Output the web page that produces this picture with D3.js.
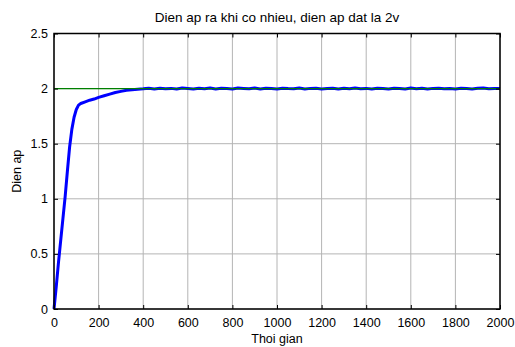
<!DOCTYPE html>
<html>
<head>
<meta charset="utf-8">
<script src="https://cdn.jsdelivr.net/npm/d3@7"></script>
<style>
  body { margin: 0; background: #fff; }
  text { font-family: "Liberation Sans", Arial, sans-serif; }
</style>
</head>
<body>
<div id="chart"></div>
<script>
// output voltage readings (time, volts)
let times = [0, 10, 20, 30, 40, 50, 60, 70, 80, 90, 100, 110, 120, 140, 160, 180,
  200, 225, 250, 275, 300, 325, 350, 375, 400,
  425, 450, 475, 500, 525, 550, 575, 600, 625, 650, 675, 700, 725, 750, 775, 800,
  825, 850, 875, 900, 925, 950, 975, 1000, 1025, 1050, 1075, 1100, 1125, 1150, 1175, 1200,
  1225, 1250, 1275, 1300, 1325, 1350, 1375, 1400, 1425, 1450, 1475, 1500, 1525, 1550, 1575, 1600,
  1625, 1650, 1675, 1700, 1725, 1750, 1775, 1800, 1825, 1850, 1875, 1900, 1925, 1950, 1975, 2000]
let volts = [0, 0.2, 0.42, 0.62, 0.82, 1.02, 1.25, 1.47, 1.63, 1.74, 1.81, 1.85, 1.865, 1.88, 1.895, 1.905,
  1.92, 1.935, 1.95, 1.965, 1.975, 1.985, 1.99, 1.995, 1.998,
  2.003, 1.997, 2.004, 1.998, 2.002, 1.996, 2.005, 2.001, 1.997, 2.004,
  1.999, 2.006, 1.997, 2.003, 2.000, 1.996, 2.005, 2.002, 1.998, 2.005,
  1.997, 2.003, 2.001, 1.996, 2.004, 2.000, 1.998, 2.006, 1.997, 2.002,
  2.004, 1.997, 2.001, 2.004, 1.996, 2.003, 1.999, 2.005, 1.998, 2.002,
  1.997, 2.004, 2.000, 1.997, 2.004, 2.001, 1.996, 2.005, 1.999, 2.003,
  1.997, 2.002, 2.004, 1.998, 2.001, 1.997, 2.004, 2.000, 1.997, 2.003,
  2.005, 1.998, 2.002, 2.000]

// setpoint
let setTimes = [0, 2000]
let setVolts = [2, 2]

let xTicks = [0, 200, 400, 600, 800, 1000, 1200, 1400, 1600, 1800, 2000]
let yTicks = [0, 0.5, 1, 1.5, 2, 2.5]

let margin = { top: 33.5, left: 54, right: 15, bottom: 38 }
let width = 515 - margin.left - margin.right
let height = 347 - margin.top - margin.bottom

let svg = d3
  .select('#chart')
  .append('svg')
  .attr('width', 515)
  .attr('height', 347)

svg.append('rect').attr('width', 515).attr('height', 347).attr('fill', '#fff')

let g = svg.append('g')
  .attr('transform', 'translate(' + margin.left + ',' + margin.top + ')')

let x = d3.scaleLinear().domain([0, 2000]).range([0, width])
let y = d3.scaleLinear().domain([0, 2.5]).range([height, 0])

// grid
g.selectAll('.gx')
  .data(xTicks)
  .enter()
  .append('line')
  .attr('x1', d => x(d)).attr('x2', d => x(d))
  .attr('y1', 0).attr('y2', height)
  .attr('stroke', '#b4b4b4')
  .attr('stroke-width', 1)

g.selectAll('.gy')
  .data(yTicks)
  .enter()
  .append('line')
  .attr('y1', d => y(d)).attr('y2', d => y(d))
  .attr('x1', 0).attr('x2', width)
  .attr('stroke', '#b4b4b4')
  .attr('stroke-width', 1)

let pts = times.map((t, i) => [t, volts[i]])

let line = d3.line()
  .x(d => x(d[0]))
  .y(d => y(d[1]))

g.append('path')
  .datum(pts)
  .attr('d', line)
  .attr('fill', 'none')
  .attr('stroke', '#0000ff')
  .attr('stroke-width', 3)
  .attr('stroke-linejoin', 'round')

g.append('path')
  .datum(setTimes.map((t, i) => [t, setVolts[i]]))
  .attr('d', line)
  .attr('fill', 'none')
  .attr('stroke', '#008000')
  .attr('stroke-width', 1.2)

// axes, ticks inward
let xAxis = g.append('g')
  .attr('transform', 'translate(0,' + height + ')')
  .call(d3.axisBottom(x).tickValues(xTicks).tickSize(-4).tickPadding(9).tickFormat(d3.format('d')))
let xTop = g.append('g')
  .call(d3.axisTop(x).tickValues(xTicks).tickSize(-4).tickFormat(''))
let yAxis = g.append('g')
  .call(d3.axisLeft(y).tickValues(yTicks).tickSize(-4).tickPadding(6).tickFormat(d => d))
let yRight = g.append('g')
  .attr('transform', 'translate(' + width + ',0)')
  .call(d3.axisRight(y).tickValues(yTicks).tickSize(-4).tickFormat(''))

;[xAxis, xTop, yAxis, yRight].forEach(a => {
  a.select('.domain').remove()
  a.selectAll('line').attr('stroke', '#000')
  a.selectAll('text').attr('font-size', '12.5px').attr('fill', '#000')
    .style('font-family', '"Liberation Sans", Arial, sans-serif')
})

g.append('rect')
  .attr('width', width).attr('height', height)
  .attr('fill', 'none')
  .attr('stroke', '#000')
  .attr('stroke-width', 1.5)

svg.append('text')
  .attr('x', margin.left + width / 2)
  .attr('y', 22)
  .attr('text-anchor', 'middle')
  .attr('font-size', '13.5px')
  .text('Dien ap ra khi co nhieu, dien ap dat la 2v')

svg.append('text')
  .attr('x', margin.left + width / 2)
  .attr('y', 343)
  .attr('text-anchor', 'middle')
  .attr('font-size', '12.5px')
  .text('Thoi gian')

svg.append('text')
  .attr('transform', 'translate(21,' + (margin.top + height / 2) + ') rotate(-90)')
  .attr('text-anchor', 'middle')
  .attr('font-size', '12.5px')
  .text('Dien ap')
</script>
</body>
</html>
